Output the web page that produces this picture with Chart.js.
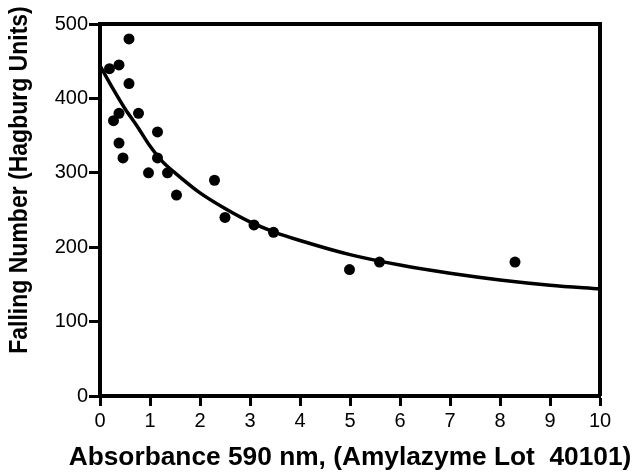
<!DOCTYPE html>
<html>
<head>
<meta charset="utf-8">
<script src="https://cdn.jsdelivr.net/npm/chart.js@4"></script>
<style>
  html, body { margin: 0; padding: 0; background: #fff; }
  #wrap { width: 634px; height: 472px; }
</style>
</head>
<body>
<div id="wrap"><canvas id="chart" width="634" height="472"></canvas></div>
<script>
// measured points (absorbance, falling number)
const absorbance = [0.19, 0.38, 0.58, 0.58, 0.38, 0.27, 0.77, 1.15, 0.38, 0.46, 1.15, 0.97, 1.35, 1.53, 2.29, 2.5, 3.08, 3.47, 4.99, 5.59, 8.3];
const fallingNumber = [440, 445, 480, 420, 380, 370, 380, 355, 340, 320, 320, 300, 300, 270, 290, 240, 230, 220, 170, 180, 180];

// fitted curve
const curveX = [0, 0.25, 0.5, 0.75, 1, 1.25, 1.5, 2, 2.5, 3, 3.5, 4, 5, 6, 7, 8, 9, 10];
const curveY = [444, 414, 386, 362, 336, 315, 300, 273, 252, 234, 220, 209, 190, 176, 165, 156, 149, 144];

const xTitle = 'Absorbance 590 nm, (Amylazyme Lot  40101)';
const yTitle = 'Falling Number (Hagburg Units)';

const points = absorbance.map((x, i) => ({ x, y: fallingNumber[i] }));
const curve = curveX.map((x, i) => ({ x, y: curveY[i] }));

const fontFamily = '"Liberation Sans", Arial, sans-serif';

// frame top/right edges + both axis titles (the x title is wider than the axis,
// chart.js would squeeze it to the axis length, so they're drawn here)
const frame = {
  id: 'frame',
  afterDraw(chart) {
    const { ctx, chartArea: a } = chart;
    ctx.save();
    ctx.strokeStyle = '#000';
    ctx.lineWidth = 4;
    ctx.beginPath();
    ctx.moveTo(a.left - 2, a.top);
    ctx.lineTo(a.right, a.top);
    ctx.lineTo(a.right, a.bottom);
    ctx.stroke();

    ctx.fillStyle = '#000';
    ctx.textAlign = 'center';

    ctx.save();
    ctx.font = 'bold 26.3px ' + fontFamily;
    ctx.textBaseline = 'alphabetic';
    ctx.fillText(xTitle, (a.left + a.right) / 2, 465);
    ctx.restore();

    ctx.save();
    ctx.translate(20, 180);
    ctx.rotate(-Math.PI / 2);
    ctx.scale(1, 1.15);
    ctx.font = 'bold 23px ' + fontFamily;
    ctx.textBaseline = 'middle';
    ctx.fillText(yTitle, 0, 0);
    ctx.restore();

    ctx.restore();
  }
};

const tickFont = { family: fontFamily, size: 20 };

new Chart(document.getElementById('chart'), {
  type: 'scatter',
  data: {
    datasets: [
      {
        label: 'fit', data: curve, showLine: true, pointRadius: 0,
        borderColor: '#000', borderWidth: 3.5, cubicInterpolationMode: 'monotone', order: 2
      },
      {
        label: 'data', data: points, pointRadius: 5.5, pointHoverRadius: 5.5,
        backgroundColor: '#000', borderColor: '#000', borderWidth: 0, order: 1
      }
    ]
  },
  options: {
    responsive: false,
    animation: false,
    layout: { padding: { top: 24, right: 34, left: 0, bottom: 0 } },
    plugins: { legend: { display: false }, tooltip: { enabled: false } },
    scales: {
      x: {
        type: 'linear', min: 0, max: 10,
        ticks: { stepSize: 1, color: '#000', font: tickFont, padding: 3 },
        grid: { drawOnChartArea: false, tickLength: 10, tickWidth: 3, tickColor: '#000' },
        border: { display: true, color: '#000', width: 4 },
        afterFit: s => { s.height = 76; }
      },
      y: {
        min: 0, max: 500,
        ticks: { stepSize: 100, color: '#000', font: tickFont, padding: 1 },
        grid: { drawOnChartArea: false, tickLength: 11, tickWidth: 3, tickColor: '#000' },
        border: { display: true, color: '#000', width: 4 },
        afterFit: s => { s.width = 100; }
      }
    }
  },
  plugins: [frame]
});
</script>
</body>
</html>
